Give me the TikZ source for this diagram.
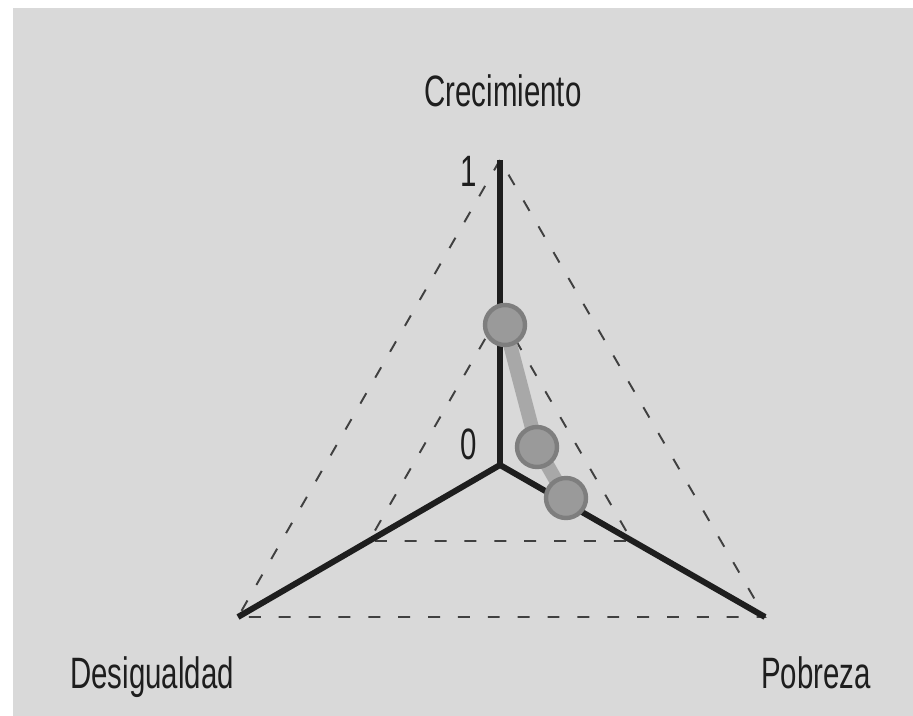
\documentclass[tikz,border=0pt]{standalone}
\usepackage{fontspec}
\setmainfont[FakeStretch=0.67]{Liberation Sans}
\usepackage{xcolor}
\definecolor{panel}{HTML}{D9D9D9}
\definecolor{dotfill}{HTML}{9A9A9A}
\definecolor{dotedge}{HTML}{7E7E7E}
\definecolor{linkgray}{HTML}{A8A8A8}
\definecolor{ink}{HTML}{1E1E1E}
\pgfdeclarelayer{front}
\pgfsetlayers{main,front}

\begin{document}
\begin{tikzpicture}[x=0.02cm,y=-0.02cm,
  axis/.style={ink,line width=3.4pt},
  grid/.style={ink!85,line width=1.1pt,dash pattern=on 6.8pt off 10.2pt},
  link/.style={linkgray,line width=8pt},
  dot/.style={circle,fill=dotfill,draw=dotedge,line width=2.5pt,minimum size=0.8cm,inner sep=0pt},
  lab/.style={ink,anchor=base,inner sep=0pt,font=\fontsize{25}{30}\selectfont}]
\useasboundingbox (0,0) rectangle (913,716);
\fill[panel] (13,8) rectangle (913,716);
\coordinate (o) at (500,465);
\coordinate (c1) at (500,160);
\coordinate (d1) at (238,617);
\coordinate (p1) at (765,617);
\coordinate (c2) at (500,313);
\coordinate (d2) at (369,541);
\coordinate (p2) at (632,541);
\draw[grid] (c1)--(d1)--(p1)--cycle;
\draw[grid] (c2)--(d2)--(p2)--cycle;
\foreach \v in {c1,d1,p1}{
\draw[axis] (o)--(\v);
}
\node[lab] (crec) at (503,107) {Crecimiento};
\node[lab] (desig) at (152,688) {Desigualdad};
\node[lab] (pobr) at (816,688) {Pobreza};
\node[lab] (uno) at (469,187) {1};
\node[lab] (cero) at (469,459) {0};
\begin{pgfonlayer}{front}
\node[dot] (g1) at (505,325) {};
\node[dot] (g2) at (537,447) {};
\node[dot] (g3) at (566,498) {};
\end{pgfonlayer}
\draw[link] (g1.center)--(g2.center)--(g3.center);
\end{tikzpicture}
\end{document}
